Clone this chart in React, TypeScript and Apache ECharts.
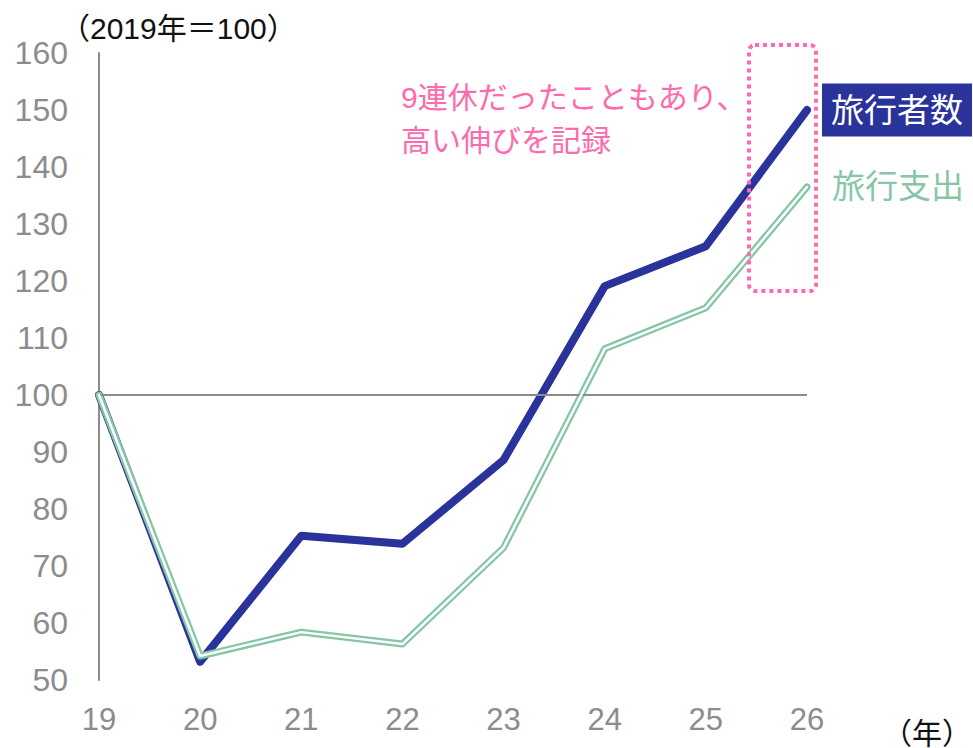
import React, { useEffect, useRef } from "react";
import * as echarts from "echarts";

const years = ["19", "20", "21", "22", "23", "24", "25", "26"];
const travelers = [100, 53.2, 75.3, 73.9, 88.6, 119.1, 126.1, 150];
const spending = [100, 54.2, 58.4, 56.3, 73.2, 108.1, 115.3, 136.5];
const yMin = 50;
const yMax = 160;
const yInterval = 10;

const NAVY = "#29339a";
const GREEN = "#86c6a6";
const PINK = "#ff6aad";
const GREY = "#8c8c8c";
const FONT = "'Liberation Sans', 'Noto Sans CJK JP', sans-serif";

export default function App() {
  const ref = useRef<HTMLDivElement>(null);
  useEffect(() => {
    if (!ref.current) return;
    const chart = echarts.init(ref.current, undefined, { renderer: "svg" });
    chart.setOption({
      animation: false,
      grid: { left: 99, right: 166, top: 53, bottom: 68, containLabel: false },
      xAxis: {
        type: "category",
        data: years,
        boundaryGap: false,
        axisLine: { show: false },
        axisTick: { show: false },
        axisLabel: { color: GREY, fontSize: 31, fontFamily: FONT, margin: 24 },
        splitLine: { show: false },
      },
      yAxis: {
        type: "value",
        min: yMin,
        max: yMax,
        interval: yInterval,
        axisLine: { show: true, lineStyle: { color: GREY, width: 2 } },
        axisTick: { show: false },
        axisLabel: { color: GREY, fontSize: 32, fontFamily: FONT, margin: 31 },
        splitLine: { show: false },
      },
      graphic: [
        {
          type: "text",
          left: 60,
          top: 13,
          style: { text: "（2019年＝100）", fontSize: 30, fill: "#111", fontFamily: FONT },
        },
        {
          type: "text",
          right: 1,
          top: 718,
          style: { text: "（年）", fontSize: 30, fill: "#111", fontFamily: FONT },
        },
        {
          type: "text",
          left: 401,
          top: 76,
          style: {
            text: "9連休だったこともあり、\n高い伸びを記録",
            fontSize: 30,
            lineHeight: 43,
            fill: PINK,
            fontFamily: FONT,
          },
        },
        {
          type: "rect",
          shape: { x: 749, y: 45, width: 67, height: 246, r: 6 },
          style: { fill: "none", stroke: PINK, lineWidth: 4, lineDash: [4, 4] },
          z: 100,
        },
      ],
      series: [
        {
          type: "line",
          data: [],
          z: 1,
          markLine: {
            silent: true,
            symbol: "none",
            label: { show: false },
            lineStyle: { color: GREY, width: 2, type: "solid" },
            data: [{ yAxis: 100 }],
          },
        },
        {
          name: "旅行者数",
          type: "line",
          data: travelers,
          symbol: "none",
          z: 3,
          lineStyle: { color: NAVY, width: 8, cap: "round", join: "round" },
          itemStyle: { color: NAVY },
          endLabel: {
            show: true,
            formatter: "旅行者数",
            distance: 15,
            color: "#fff",
            fontSize: 33,
            fontFamily: FONT,
            backgroundColor: NAVY,
            padding: [10, 9, 10, 9],
          },
        },
        {
          name: "旅行支出",
          type: "line",
          data: spending,
          symbol: "none",
          z: 4,
          lineStyle: { color: GREEN, width: 7, cap: "round", join: "round" },
          itemStyle: { color: GREEN },
          endLabel: {
            show: true,
            formatter: "旅行支出",
            distance: 25,
            color: GREEN,
            fontSize: 33,
            fontFamily: FONT,
          },
        },
        {
          name: "旅行支出_inner",
          type: "line",
          data: spending,
          symbol: "none",
          z: 5,
          lineStyle: { color: "#fff", width: 2.5, cap: "round", join: "round" },
          itemStyle: { color: "#fff" },
        },
      ],
    });
    return () => chart.dispose();
  }, []);
  return <div ref={ref} style={{ width: 973, height: 748, position: "absolute", left: 0, top: 0 }} />;
}
